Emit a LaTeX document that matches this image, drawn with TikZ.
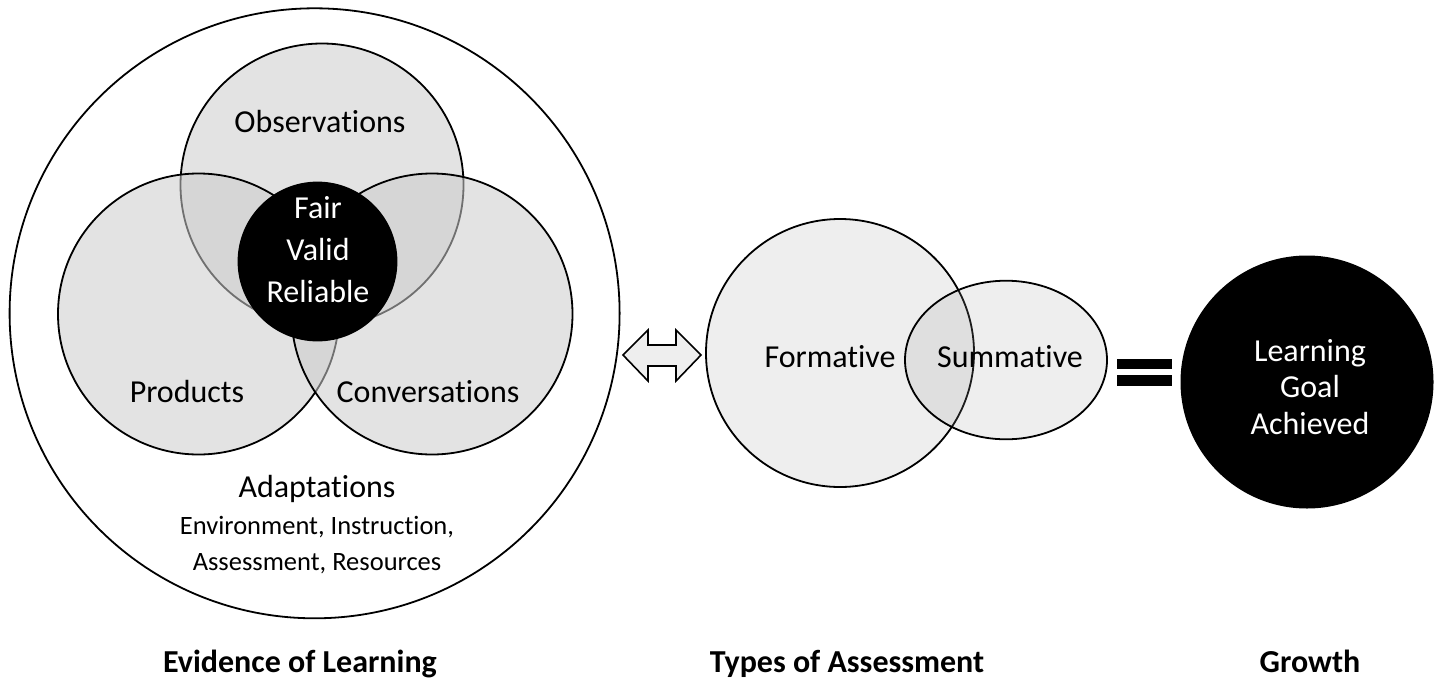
\documentclass[tikz,border=0pt]{standalone}
\usepackage{fontspec}
\setmainfont{Carlito}[Ligatures={NoCommon,NoContextual,NoRequired}]
\usetikzlibrary{shapes.geometric}
\definecolor{vennc}{HTML}{CCCCCC}
\definecolor{typefill}{HTML}{9F9F9F}
\definecolor{arrowfill}{HTML}{EEEEEE}
\begin{document}
\begin{tikzpicture}[x=1pt,y=-1pt,
  outline/.style={draw=black,line width=1.8pt},
  ring/.style={outline,circle,inner sep=0pt,minimum size=#1},
  venn/.style={fill=vennc,fill opacity=0.55},
  typec/.style={fill=typefill,fill opacity=0.18},
  big/.style={font=\fontsize{32}{39}\selectfont,anchor=base,inner sep=0pt},
  small/.style={font=\fontsize{26.5}{32}\selectfont,anchor=base,inner sep=0pt},
  caption/.style={font=\fontsize{32}{39}\selectfont\bfseries,anchor=base,inner sep=0pt}]
\useasboundingbox (0,0) rectangle (1437,683);
% evidence of learning
\node[ring=610,fill=white] (outer) at (314.6,313.3) {};
\node[ring=283,venn] (obs) at (322,185) {};
\node[ring=281,venn] (prod) at (198.5,314) {};
\node[ring=281,venn] (conv) at (432,314) {};
\node[ring=158,fill=black] (core) at (317.5,261.5) {};
\node[big] (tobs) at (320,132) {Observations};
\node[big,text=white] (tfair) at (318,218) {Fair};
\node[big,text=white] (tvalid) at (318,260) {Valid};
\node[big,text=white] (trel) at (318,302) {Reliable};
\node[big] (tprod) at (187,402) {Products};
\node[big] (tconv) at (428,402) {Conversations};
\node[big] (tadapt) at (317,497) {Adaptations};
\node[small] (tenv) at (317,534.5) {Environment, Instruction,};
\node[small] (tass) at (317,570) {Assessment, Resources};
% double arrow
\coordinate (al) at (623,355);
\coordinate (ar) at (701,355);
\draw[outline,line width=1.6pt,fill=arrowfill,line join=miter]
  (al) -- ++(25,-25) -- ++(0,15) -- ++(28,0) -- ++(0,-15) -- (ar)
  -- ++(-25,26) -- ++(0,-15) -- ++(-28,0) -- ++(0,15) -- cycle;
% types of assessment
\node[ring=268,typec] (form) at (840,353) {};
\node[outline,ellipse,inner sep=0pt,minimum width=202,minimum height=158.6,typec] (summ) at (1006,360) {};
\node[big] (tform) at (830,367) {Formative};
\node[big] (tsumm) at (1010,367) {Summative};
% equals
\fill (1117,359) rectangle (1172,369);
\fill (1117,375) rectangle (1172,386);
% growth
\node[circle,inner sep=0pt,minimum size=253,fill=black] (goal) at (1307,382) {};
\node[big,text=white] (tl1) at (1310,361) {Learning};
\node[big,text=white] (tl2) at (1310,397.5) {Goal};
\node[big,text=white] (tl3) at (1310,434) {Achieved};
% captions
\node[caption] (cap1) at (300,672) {Evidence of Learning};
\node[caption] (cap2) at (847,672) {Types of Assessment};
\node[caption] (cap3) at (1310,672) {Growth};
\end{tikzpicture}
\end{document}
